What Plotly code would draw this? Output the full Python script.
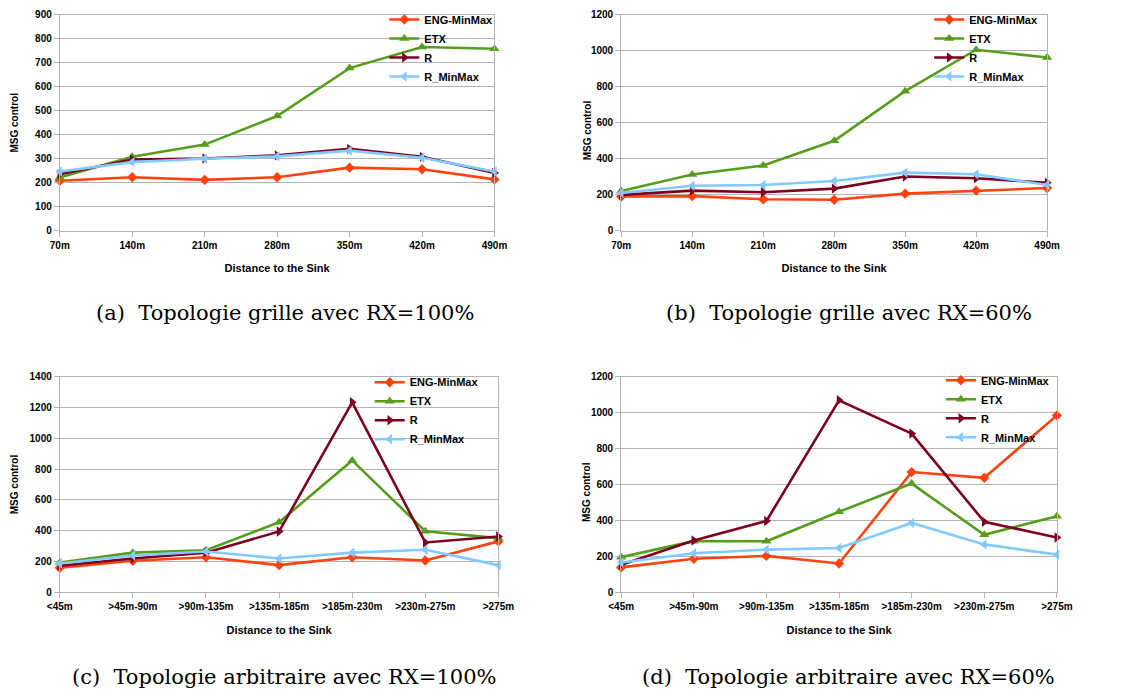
import plotly.graph_objects as go

# Category labels
grid_distances = ["70m", "140m", "210m", "280m", "350m", "420m", "490m"]
arb_distances = ["<45m", ">45m-90m", ">90m-135m", ">135m-185m",
                 ">185m-230m", ">230m-275m", ">275m"]

series_names = ["ENG-MinMax", "ETX", "R", "R_MinMax"]

# (a) grid topology, RX=100%
a_eng = [208, 223, 212, 223, 263, 256, 214]
a_etx = [222, 308, 359, 478, 678, 766, 759]
a_r = [235, 297, 301, 314, 341, 308, 241]
a_rmm = [247, 286, 300, 310, 334, 304, 247]

# (b) grid topology, RX=60%
b_eng = [190, 192, 175, 172, 206, 223, 237]
b_etx = [221, 312, 362, 500, 776, 1006, 963]
b_r = [199, 223, 214, 234, 301, 292, 267]
b_rmm = [210, 250, 254, 276, 323, 314, 254]

# (c) arbitrary topology, RX=100%
c_eng = [160, 205, 228, 177, 228, 207, 331]
c_etx = [194, 258, 273, 455, 856, 397, 352]
c_r = [173, 220, 258, 395, 1233, 324, 363]
c_rmm = [188, 239, 265, 220, 258, 277, 177]

# (d) arbitrary topology, RX=60%
d_eng = [139, 187, 203, 161, 669, 637, 984]
d_etx = [196, 285, 284, 448, 605, 320, 424]
d_r = [154, 289, 397, 1068, 883, 393, 305]
d_rmm = [166, 218, 238, 247, 386, 267, 210]

y_ranges = [900, 1200, 1400, 1200]
y_dticks = [100, 200, 200, 200]

captions = [
    "(a)  Topologie grille avec RX=100%",
    "(b)  Topologie grille avec RX=60%",
    "(c)  Topologie arbitraire avec RX=100%",
    "(d)  Topologie arbitraire avec RX=60%",
]

colors = ["#ff420e", "#579d1c", "#7e0021", "#83caff"]
symbols = ["diamond", "triangle-up", "triangle-right", "triangle-left"]
msizes = [8, 9, 9, 9]

W, H = 1145, 694
GRID = "#b3b3b3"
SANS = "Liberation Sans"

# plot areas in pixels: (left, right, top, bottom)
boxes = [(48, 494, 10, 229), (624, 1061, 10, 229),
         (48, 498, 377, 596), (624, 1071, 377, 596)]
legend_pos = [(381, 0), (940, 0), (366, 368), (952, 366)]
caption_pos = [(279, 312), (858, 312), (278, 682), (857, 682)]
ytitle_standoff = [14, None, 9, None]

panels = [
    (grid_distances, [a_eng, a_etx, a_r, a_rmm]),
    (grid_distances, [b_eng, b_etx, b_r, b_rmm]),
    (arb_distances, [c_eng, c_etx, c_r, c_rmm]),
    (arb_distances, [d_eng, d_etx, d_r, d_rmm]),
]

title_font = dict(family=SANS, size=10, color="black", weight="bold")

fig = go.Figure()
layout = {}
annotations = []

for i, (cats, series) in enumerate(panels):
    n = "" if i == 0 else str(i + 1)
    leg = "legend" if i == 0 else f"legend{i + 1}"
    for name, vals, col, sym, ms in zip(series_names, series, colors, symbols, msizes):
        fig.add_trace(go.Scatter(
            x=cats, y=vals, name=name, mode="lines+markers",
            line=dict(color=col, width=2.6),
            marker=dict(symbol=sym, size=ms, color=col),
            xaxis="x" + n, yaxis="y" + n, legend=leg, cliponaxis=False,
        ))
    l, r, t, b = boxes[i]
    layout["xaxis" + n] = dict(
        domain=[l / W, r / W], anchor="y" + n, type="category",
        categoryorder="array", categoryarray=cats, range=[0, len(cats) - 1],
        showgrid=False, showline=True, mirror=True, linecolor=GRID, linewidth=1,
        ticks="outside", ticklen=5, tickcolor=GRID,
        tickfont=dict(family=SANS, size=10, color="black", weight="bold"),
        title=dict(text="Distance to the Sink", standoff=14,
                   font=dict(family=SANS, size=11, color="black", weight="bold")),
    )
    layout["yaxis" + n] = dict(
        domain=[1 - b / H, 1 - t / H], anchor="x" + n,
        range=[0, y_ranges[i]], dtick=y_dticks[i],
        showgrid=True, gridcolor=GRID, gridwidth=1, zeroline=False,
        showline=True, mirror=True, linecolor=GRID, linewidth=1,
        ticks="outside", ticklen=5, tickcolor=GRID,
        tickfont=dict(family=SANS, size=10, color="black", weight="bold"),
    )
    if ytitle_standoff[i] is not None:
        layout["yaxis" + n]["title"] = dict(text="MSG control",
                                            standoff=ytitle_standoff[i],
                                            font=title_font)
    else:
        # the right-hand charts keep their title close to the wider tick labels
        annotations.append(dict(
            text="MSG control", textangle=-90,
            x=(l - 35) / W, y=1 - ((t + b) / 2 + 7.5) / H,
            xref="paper", yref="paper", xanchor="center", yanchor="middle",
            showarrow=False, font=title_font,
        ))
    lx, ly = legend_pos[i]
    layout[leg] = dict(
        x=lx / W, y=1 - ly / H, xanchor="left", yanchor="top",
        bgcolor="rgba(0,0,0,0)", borderwidth=0, itemwidth=30,
        tracegroupgap=0, traceorder="normal",
        font=dict(family=SANS, size=11, color="black", weight="bold"),
    )
    cx, cy = caption_pos[i]
    annotations.append(dict(
        text=captions[i], x=cx / W, y=1 - cy / H, xref="paper", yref="paper",
        xanchor="center", yanchor="middle", showarrow=False,
        font=dict(family="DejaVu Serif", size=21, color="black"),
    ))

fig.update_layout(
    width=W, height=H, margin=dict(l=0, r=0, t=0, b=0),
    paper_bgcolor="white", plot_bgcolor="white",
    showlegend=True, annotations=annotations, **layout,
)

fig.write_html("out.html")
